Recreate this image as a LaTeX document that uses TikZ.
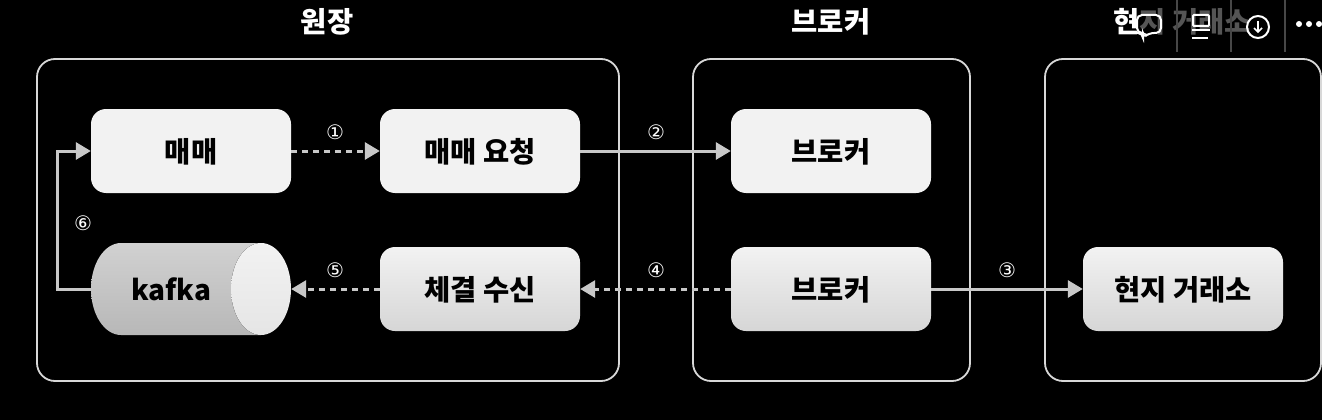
\documentclass[tikz,border=0pt]{standalone}
\usepackage{fontspec}
\setmainfont{Noto Sans CJK KR}
\newfontfamily\numfont{DejaVu Sans}
\usetikzlibrary{arrows.meta}
\definecolor{linegray}{HTML}{C8C8C8}
\definecolor{framegray}{HTML}{D8D8D8}
\definecolor{boxlight}{HTML}{F2F2F2}
\definecolor{boxdark}{HTML}{D6D6D6}
\definecolor{dimtext}{HTML}{555555}
\tikzset{
  frame/.style={draw=framegray,line width=1.8pt,rounded corners=18pt,fill=none},
  flatbox/.style={fill=boxlight,rounded corners=15pt,minimum width=200pt,minimum height=84pt,inner sep=0pt,text=black},
  gradbox/.style={rounded corners=15pt,minimum width=200pt,minimum height=84pt,inner sep=0pt,text=black,top color=boxlight,bottom color=boxdark},
  boxtext/.style={font=\bfseries\fontsize{28.5}{29}\selectfont,text=black,inner sep=0pt},
  head/.style={font=\bfseries\fontsize{28.5}{29}\selectfont,text=white,inner sep=0pt},
  num/.style={font=\numfont\fontsize{20}{20}\selectfont,text=white,inner sep=0pt},
  solidarrow/.style={draw=linegray,line width=3pt,-{Triangle[length=15pt,width=17pt,fill=linegray]}},
  dasharrow/.style={solidarrow,dash pattern=on 6pt off 5pt},
  icon/.style={draw=white,line width=2pt,fill=none},
  sep/.style={draw=white!28!black,line width=1.4pt}
}
\begin{document}
\begin{tikzpicture}[x=1pt,y=-1pt]
\fill[black] (0,0) rectangle (1322,420);
\useasboundingbox (0,0) rectangle (1322,420);
% group frames
\draw[frame] (37,59) rectangle (619,381);
\draw[frame] (693,59) rectangle (970,381);
\draw[frame] (1045,59) rectangle (1321,381);
% headings
\node[head] (h1) at (327,22) {원장};
\node[head] (h2) at (831,22) {브로커};
\node[head] (h3) at (1182,22) {현{\color{dimtext}지 거래소}};
% boxes
\node[flatbox] (trade) at (191,151) {};
\node[flatbox] (req) at (480,151) {};
\node[flatbox] (brk1) at (831,151) {};
\node[gradbox] (recv) at (480,289) {};
\node[gradbox] (brk2) at (831,289) {};
\node[gradbox] (local) at (1183,289) {};
\node[boxtext] (t1) at (191,151.5) {매매};
\node[boxtext] (t2) at (480,151.5) {매매 요청};
\node[boxtext] (t3) at (831,151.5) {브로커};
\node[boxtext] (t4) at (480,289.5) {체결 수신};
\node[boxtext] (t5) at (831,289.5) {브로커};
\node[boxtext] (t6) at (1183,289.5) {현지 거래소};
% connectors
\node[minimum width=200pt,minimum height=92pt,inner sep=0pt] (kafka) at (191,289) {};
\coordinate (bend) at (57,289);
\draw[dasharrow] (trade.east) -- (req.west);
\draw[solidarrow] (req.east) -- (brk1.west);
\draw[solidarrow] (brk2.east) -- (local.west);
\draw[dasharrow] (brk2.west) -- (recv.east);
\draw[dasharrow] (recv.west) -- (kafka.east);
\draw[solidarrow] (kafka.west) -- (bend) |- (trade.west);
% kafka cylinder
\path[top color=white!82!black,bottom color=white!72!black]
  (261,243) -- (121,243) arc[start angle=270,end angle=90,x radius=30,y radius=46] -- (261,335) -- cycle;
\fill[top color=boxlight,bottom color=white!90!black] (261,289) ellipse[x radius=30,y radius=46];
\node[font=\bfseries\fontsize{28}{28}\selectfont,text=black,inner sep=0pt] (kafkatext) at (171,289.5) {kafka};
% numbers
\node[num] (n1) at (335,132) {①};
\node[num] (n2) at (656,132) {②};
\node[num] (n3) at (1007,270) {③};
\node[num] (n4) at (656,270) {④};
\node[num] (n5) at (335,270) {⑤};
\node[num] (n6) at (83,223) {⑥};
% viewer toolbar
\draw[sep] (1177,0) -- (1177,52);
\draw[sep] (1231,0) -- (1231,52);
\draw[sep] (1285,0) -- (1285,52);
\draw[icon,rounded corners=5pt] (1137,15) -- (1161,15) -- (1161,33) -- (1149,33) -- (1143,38) -- (1143,33) -- (1137,33) -- cycle;
\draw[icon,rounded corners=1pt] (1193,15) rectangle (1209,26);
\draw[icon] (1192,30) -- (1210,30);
\draw[icon] (1192,38) -- (1208,38);
\draw[icon] (1258,27) circle[radius=11];
\draw[icon,line width=1.5pt] (1258,21) -- (1258,32);
\draw[icon,line width=1.5pt] (1254,28) -- (1258,32) -- (1262,28);
\fill[white] (1299,24) circle[radius=3];
\fill[white] (1309,24) circle[radius=3];
\fill[white] (1319,24) circle[radius=3];
\end{tikzpicture}
\end{document}
